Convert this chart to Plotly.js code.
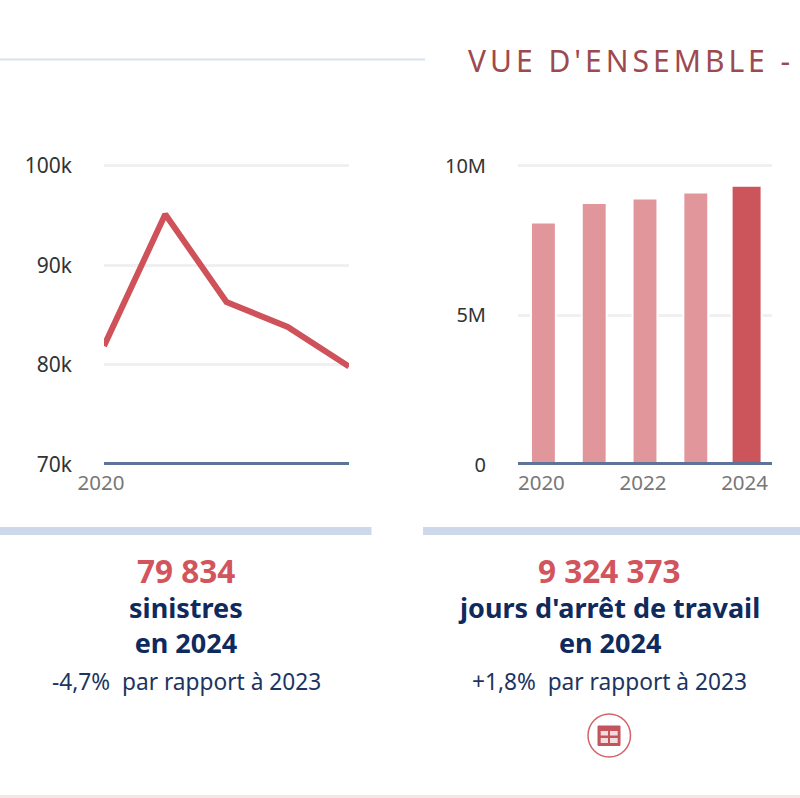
<!DOCTYPE html>
<html><head><meta charset="utf-8">
<script src="https://cdn.plot.ly/plotly-3.0.1.min.js"></script>
<style>
html,body{margin:0;padding:0;background:#fff;overflow:hidden}
.annotation[data-index="0"] text{letter-spacing:4px}
</style></head><body><div id="chart" style="width:800px;height:798px"></div>
<script>
const years = [2020, 2021, 2022, 2023, 2024];
const sinistres = [81900, 95100, 86300, 83800, 79834];
const joursArret = [8090000, 8750000, 8900000, 9100000, 9324373];
const leftYTicks = [70000, 80000, 90000, 100000];
const leftYLabels = ["70k", "80k", "90k", "100k"];
const rightYTicks = [0, 5000000, 10000000];
const rightYLabels = ["0", "5M", "10M"];
const leftXTicks = [2020];
const rightXTicks = [2020, 2022, 2024];

const W = 800, H = 798;
const px = x => x / W, py = y => 1 - y / H;
const FONT = '"Noto Sans", sans-serif';
const NAVY = '#0f2a5c', RED = '#d2555e';

const note = (x, y, text, size, color, weight) => ({
  xref: 'paper', yref: 'paper', x: px(x), y: py(y), text, showarrow: false,
  xanchor: 'center', yanchor: 'middle', align: 'center',
  font: {family: FONT, size, color, weight: weight || 400}
});
const box = (x0, y0, x1, y1, fill) => ({
  type: 'rect', xref: 'paper', yref: 'paper', x0: px(x0), x1: px(x1), y0: py(y0), y1: py(y1),
  fillcolor: fill, line: {width: 0}
});

const annotations = [
  note(630.5, 60, "VUE D'ENSEMBLE -", 30, '#9c4a50'),
  note(186, 570.5, '79 834', 31.5, RED, 700),
  note(186, 625, 'sinistres<br>en 2024', 27, NAVY, 700),
  note(186, 681, '-4,7%\u00a0 par rapport à 2023', 22.7, '#1d3461'),
  note(609, 570.5, '9 324 373', 31.5, RED, 700),
  note(609, 625, "jours d'arrêt de travail<br>en 2024", 27, NAVY, 700),
  note(609, 681, '+1,8%\u00a0 par rapport à 2023', 22.7, '#1d3461')
];

const shapes = [
  box(0, 58.5, 425, 60.5, '#d8e2f0'),
  box(0, 527, 371.5, 535, '#cdd8ea'),
  box(423, 527, 800, 535, '#cdd8ea'),
  box(0, 795, 800, 798, '#f8e3e6'),
  {type: 'circle', xref: 'paper', yref: 'paper', x0: px(588), x1: px(630.5), y0: py(714), y1: py(757),
   line: {color: '#d0656c', width: 1.5}, fillcolor: 'rgba(0,0,0,0)'},
  {type: 'rect', xref: 'paper', yref: 'paper', x0: px(598), x1: px(620), y0: py(726), y1: py(745.5),
   fillcolor: '#c4545c', line: {color: '#c4545c', width: 1}},
  box(600.7, 731, 608, 735.5, '#f3dcde'),
  box(610, 731, 617.7, 735.5, '#f3dcde'),
  box(600.7, 738, 608, 743, '#f3dcde'),
  box(610, 738, 617.7, 743, '#f3dcde')
];

const traces = [
  {type: 'scatter', mode: 'lines', x: years, y: sinistres, xaxis: 'x', yaxis: 'y',
   line: {color: '#cf5159', width: 6, shape: 'linear'}, hoverinfo: 'x+y'},
  {type: 'bar', x: years.map(String), y: joursArret, xaxis: 'x2', yaxis: 'y2',
   width: years.map(v => v === 2024 ? 0.59 : 0.49),
   marker: {color: years.map(v => v === 2024 ? '#cc555c' : '#e1969c'),
            line: {color: '#ffffff', width: 2}}}
];

// The axis spans 299 px from bottom value to top tick; a 5 px headroom keeps the top gridline drawn.
const axisPx = 299, headroomPx = 5;
const yDomain = [py(464.5), py(165.5 - headroomPx)];
const leftTop = 100000 + headroomPx * 30000 / axisPx;
const rightTop = 10000000 + headroomPx * 10000000 / axisPx;

const xBase = {
  showgrid: false, zeroline: false, showline: true, linecolor: '#5f7398', linewidth: 3,
  anchor: 'free', position: py(463),
  ticks: '', tickfont: {family: FONT, size: 20.5, color: '#777777'}, tickangle: 0, ticklabelstandoff: 0
};
const yBase = {
  domain: yDomain, showgrid: true, gridcolor: '#f0f0f0', gridwidth: 3, zeroline: false, showline: false,
  ticks: '', tickfont: {family: FONT, size: 21, color: '#333333'}, ticklabelstandoff: 31
};

const layout = {
  width: W, height: H, margin: {l: 0, r: 0, t: 0, b: 0},
  paper_bgcolor: '#ffffff', plot_bgcolor: '#ffffff', showlegend: false, bargap: 0.5,
  font: {family: FONT},
  xaxis: Object.assign({}, xBase, {domain: [px(104), px(349)], range: [2020, 2024],
    tickmode: 'array', tickvals: leftXTicks, ticktext: leftXTicks.map(String), ticklabelshift: -3}),
  yaxis: Object.assign({}, yBase, {range: [70000, leftTop], tickmode: 'array',
    tickvals: leftYTicks, ticktext: leftYLabels, anchor: 'x'}),
  xaxis2: Object.assign({}, xBase, {domain: [px(518), px(772)], type: 'category', range: [-0.5, 4.5],
    tickmode: 'array', tickvals: rightXTicks.map(String), ticktext: rightXTicks.map(String), ticklabelshift: -2}),
  yaxis2: Object.assign({}, yBase, {range: [0, rightTop], tickmode: 'array',
    tickvals: rightYTicks, ticktext: rightYLabels, anchor: 'x2',
    tickfont: {family: FONT, size: 20, color: '#333333'}}),
  annotations, shapes
};
Plotly.newPlot('chart', traces, layout, {displayModeBar: false, responsive: false});
</script></body></html>
